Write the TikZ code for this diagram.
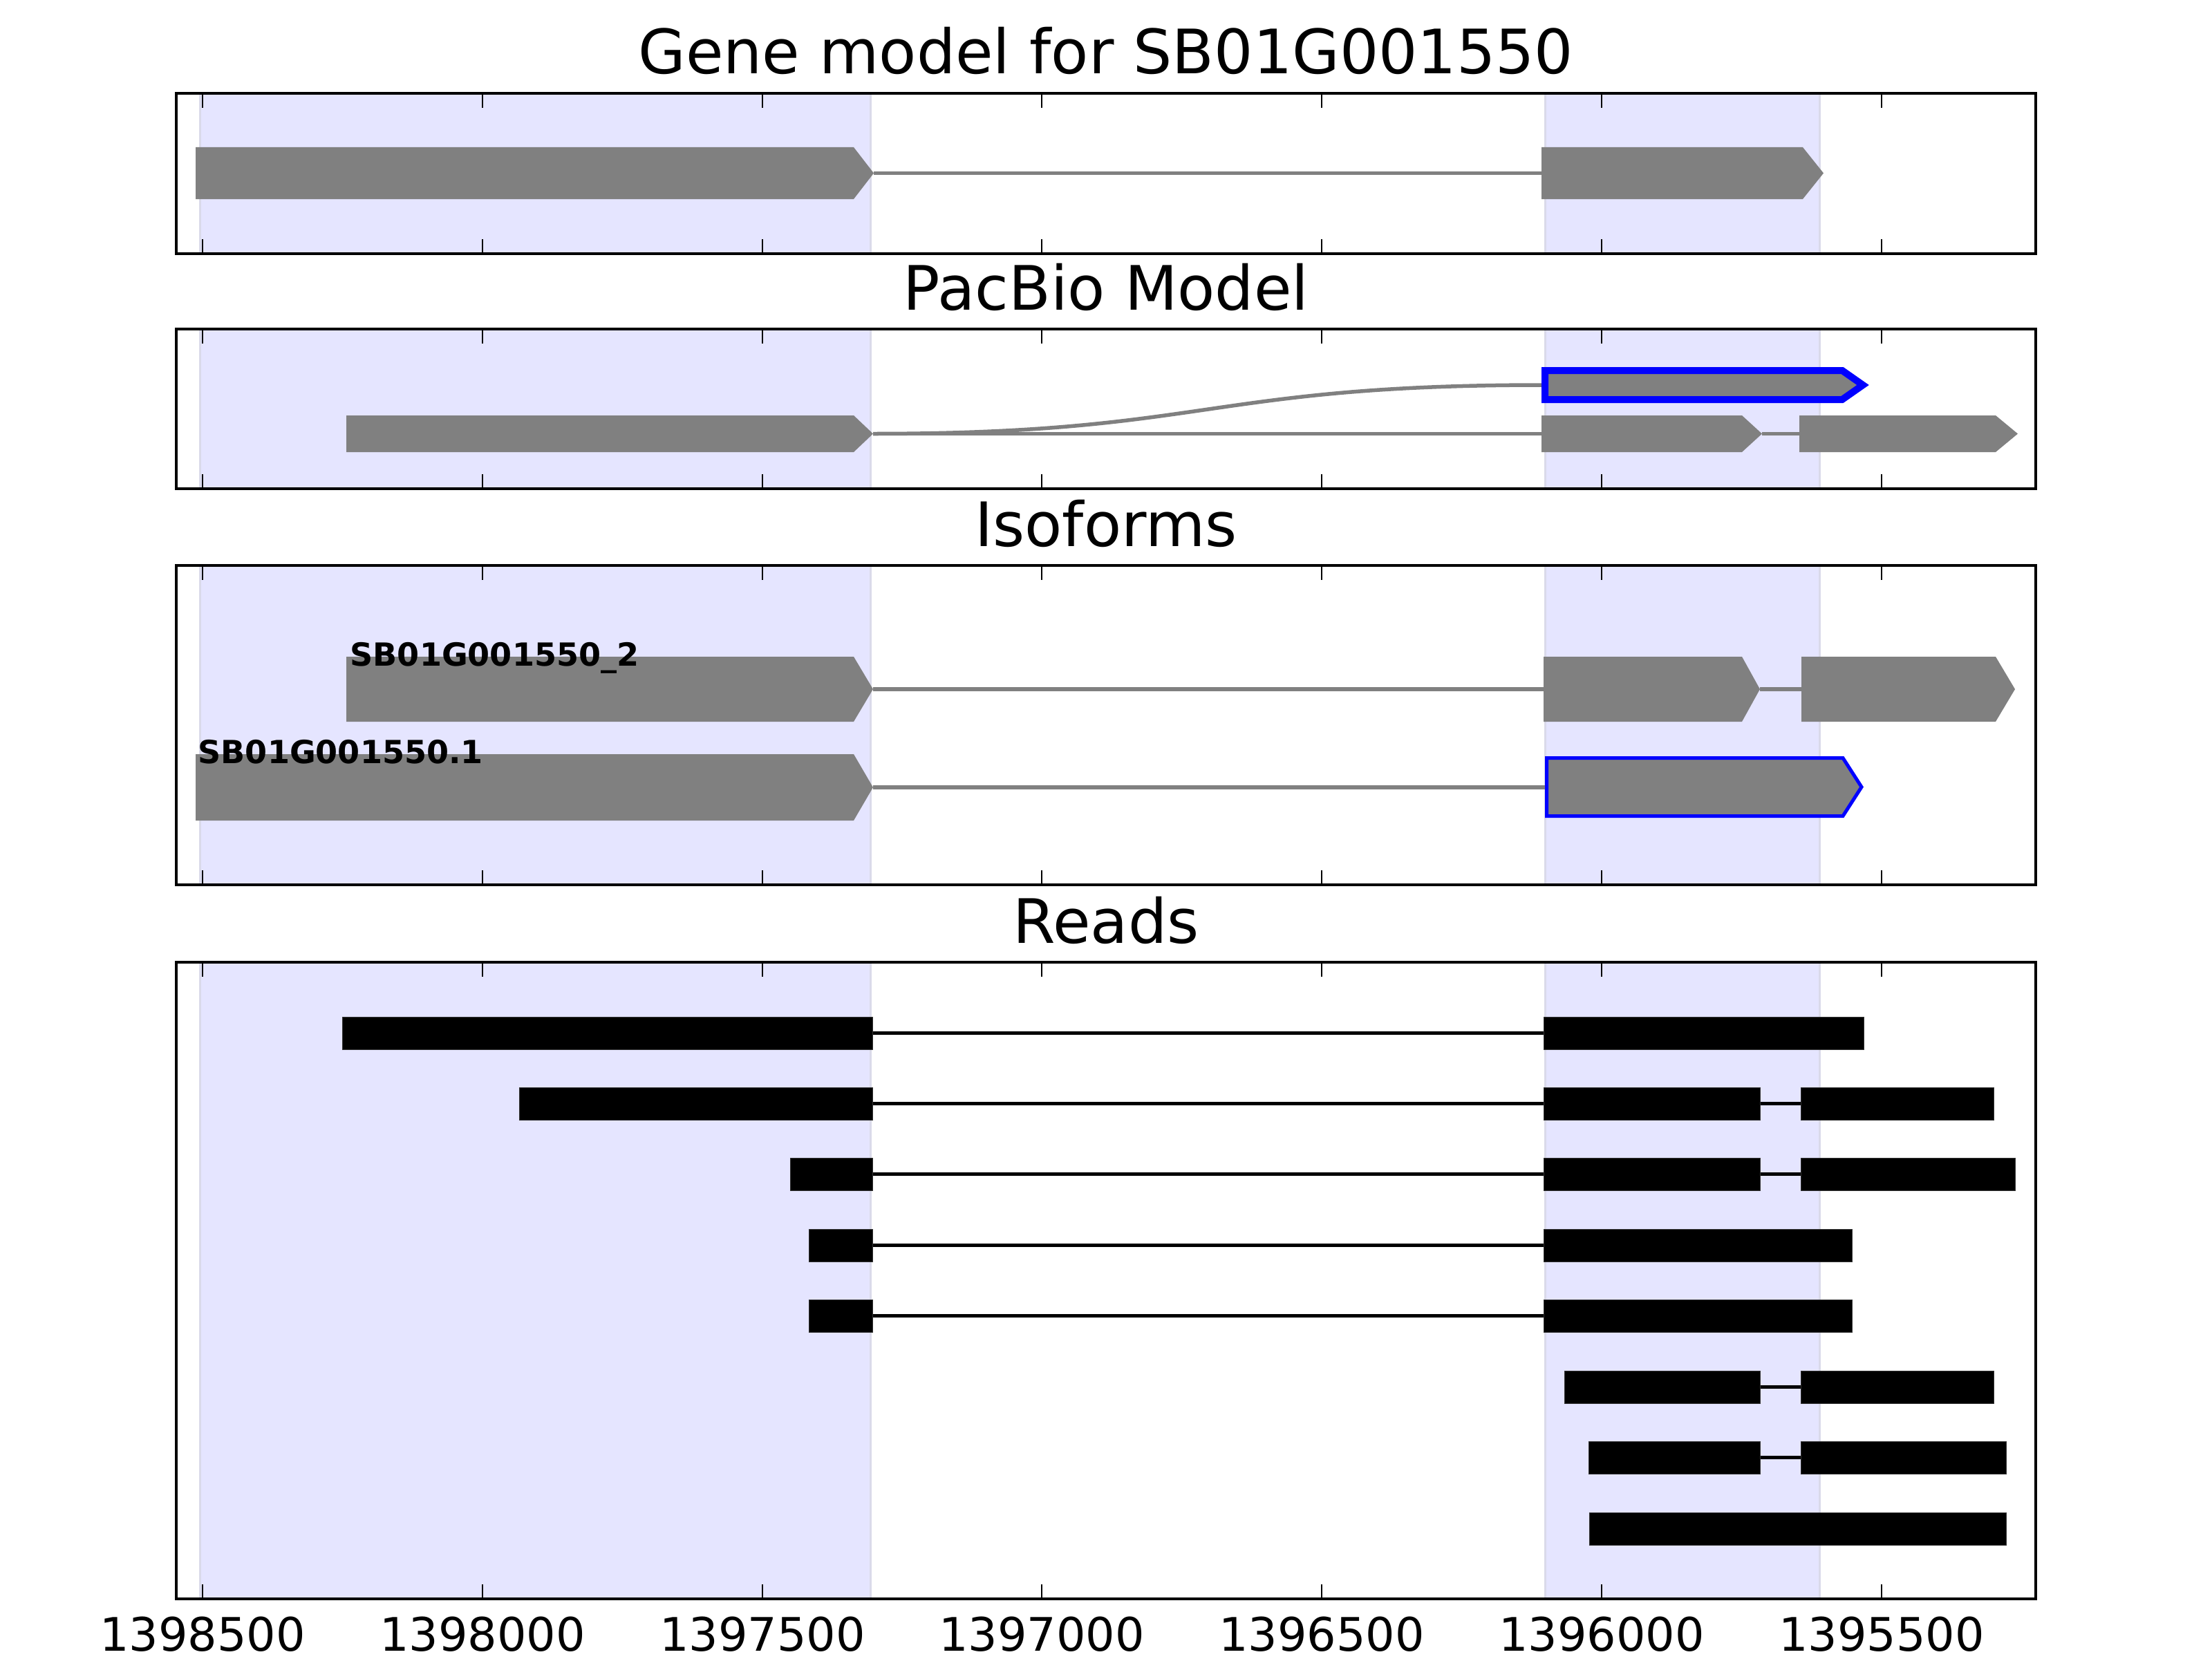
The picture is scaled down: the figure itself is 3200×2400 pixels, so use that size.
\documentclass[tikz,border=0pt]{standalone}
\usepackage{fontspec}
\setmainfont{DejaVu Sans}
\usepackage{xcolor}
\definecolor{exongray}{HTML}{808080}
\definecolor{spanblue}{HTML}{E5E5FF}
\definecolor{spanedge}{HTML}{DADAEA}
\definecolor{isoblue}{HTML}{0000FF}

\begin{document}
\begin{tikzpicture}[x=0.01cm, y=-0.01cm,
        exon/.style={fill=exongray},
        picked/.style={fill=exongray, draw=isoblue, line join=miter},
        intron/.style={draw=exongray, line width=0.055cm},
        read/.style={fill=black, draw=black!80, line width=0.01cm},
        readline/.style={draw=black, line width=0.055cm},
        shade/.style={fill=spanblue, draw=spanedge, line width=0.03cm},
        frame/.style={draw=black, line width=0.045cm},
        tick/.style={draw=black, line width=0.025cm},
        paneltitle/.style={anchor=base, inner sep=0pt, font=\fontsize{25.2}{30}\selectfont},
        ticklabel/.style={anchor=base, inner sep=0pt, font=\fontsize{19}{22}\selectfont},
        isolabel/.style={anchor=base west, inner sep=0pt, font=\fontsize{13.1}{15}\selectfont\bfseries}]
        \useasboundingbox (0,0) rectangle (3200,2400);
        \fill[white] (0,0) rectangle (3200,2400);

        % highlighted exon spans
        \foreach \yt/\yb in {135/367, 476/707, 818/1280, 1392/2313} {
            \filldraw[shade] (289,\yt) rectangle (1259,\yb);
            \filldraw[shade] (2235,\yt) rectangle (2632,\yb);
        }

        % gene model
        \node[paneltitle] (genetitle) at (1600,107) {Gene model for SB01G001550};
        \draw[intron] (1264,250.5) -- (2230,250.5);
        \fill[exon] (283,213) -- (1235,213) -- (1264,250.5) -- (1235,288) -- (283,288) -- cycle;
        \fill[exon] (2230,213) -- (2608,213) -- (2638,250.5) -- (2608,288) -- (2230,288) -- cycle;

        % pacbio model
        \node[paneltitle] (pacbiotitle) at (1600,448) {PacBio Model};
        \draw[intron] (1263,627.5) -- (2230,627.5);
        \draw[intron] (1263,627.5) .. controls (1746,627.5) and (1746,557) .. (2232,557);
        \draw[intron] (2549,627.5) -- (2603,627.5);
        \fill[exon] (501,601) -- (1235,601) -- (1263,627.5) -- (1235,654) -- (501,654) -- cycle;
        \fill[exon] (2230,601) -- (2520,601) -- (2549,627.5) -- (2520,654) -- (2230,654) -- cycle;
        \fill[exon] (2603,601) -- (2887,601) -- (2919,627.5) -- (2887,654) -- (2603,654) -- cycle;
        \filldraw[picked, line width=0.1cm] (2235,536) -- (2665,536) -- (2695,557) -- (2665,578) -- (2235,578) -- cycle;

        % isoforms
        \node[paneltitle] (isotitle) at (1600,790) {Isoforms};
        \draw[intron] (1263,997) -- (2233,997);
        \draw[intron] (2546,997) -- (2606,997);
        \fill[exon] (501,950) -- (1235,950) -- (1263,997) -- (1235,1044) -- (501,1044) -- cycle;
        \fill[exon] (2233,950) -- (2520,950) -- (2546,997) -- (2520,1044) -- (2233,1044) -- cycle;
        \fill[exon] (2606,950) -- (2887,950) -- (2915,997) -- (2887,1044) -- (2606,1044) -- cycle;
        \node[isolabel] (iso2label) at (506,963) {SB01G001550\_2};
        \draw[intron] (1263,1139) -- (2236,1139);
        \fill[exon] (283,1091) -- (1235,1091) -- (1263,1139) -- (1235,1187) -- (283,1187) -- cycle;
        \filldraw[picked, line width=0.05cm] (2237.5,1096.5) -- (2666,1096.5) -- (2693,1138.5) -- (2666,1180.5) -- (2237.5,1180.5) -- cycle;
        \node[isolabel] (iso1label) at (286,1104) {SB01G001550.1};

        % reads
        \node[paneltitle] (readstitle) at (1600,1364) {Reads};
        \draw[readline] (1262,1494.5) -- (2233,1494.5);
        \fill[read] (495,1471) rectangle (1262,1518);
        \fill[read] (2233,1471) rectangle (2696,1518);

        \draw[readline] (1262,1596.5) -- (2233,1596.5);
        \draw[readline] (2546,1596.5) -- (2605,1596.5);
        \fill[read] (751,1573) rectangle (1262,1620);
        \fill[read] (2233,1573) rectangle (2546,1620);
        \fill[read] (2605,1573) rectangle (2884,1620);

        \draw[readline] (1262,1698.5) -- (2233,1698.5);
        \draw[readline] (2546,1698.5) -- (2605,1698.5);
        \fill[read] (1143,1675) rectangle (1262,1722);
        \fill[read] (2233,1675) rectangle (2546,1722);
        \fill[read] (2605,1675) rectangle (2915,1722);

        \draw[readline] (1262,1801.5) -- (2233,1801.5);
        \fill[read] (1170,1778) rectangle (1262,1825);
        \fill[read] (2233,1778) rectangle (2679,1825);

        \draw[readline] (1262,1903.5) -- (2233,1903.5);
        \fill[read] (1170,1880) rectangle (1262,1927);
        \fill[read] (2233,1880) rectangle (2679,1927);

        \draw[readline] (2546,2006.5) -- (2605,2006.5);
        \fill[read] (2263,1983) rectangle (2546,2030);
        \fill[read] (2605,1983) rectangle (2884,2030);

        \draw[readline] (2546,2108.5) -- (2605,2108.5);
        \fill[read] (2298,2085) rectangle (2546,2132);
        \fill[read] (2605,2085) rectangle (2902,2132);

        \fill[read] (2299,2188) rectangle (2902,2235);

        % frames and ticks
        \foreach \yt/\yb in {135/367, 476/707, 818/1280, 1392/2313} {
            \foreach \tx in {293,698,1103,1507,1912,2317,2722} {
                \draw[tick] (\tx,\yt) -- ++(0,21);
                \draw[tick] (\tx,\yb) -- ++(0,-21);
            }
            \draw[frame] (255,\yt) rectangle (2945,\yb);
        }
        \node[ticklabel] (t1) at (293,2388) {1398500};
        \node[ticklabel] (t2) at (698,2388) {1398000};
        \node[ticklabel] (t3) at (1103,2388) {1397500};
        \node[ticklabel] (t4) at (1507,2388) {1397000};
        \node[ticklabel] (t5) at (1912,2388) {1396500};
        \node[ticklabel] (t6) at (2317,2388) {1396000};
        \node[ticklabel] (t7) at (2722,2388) {1395500};
\end{tikzpicture}
\end{document}
